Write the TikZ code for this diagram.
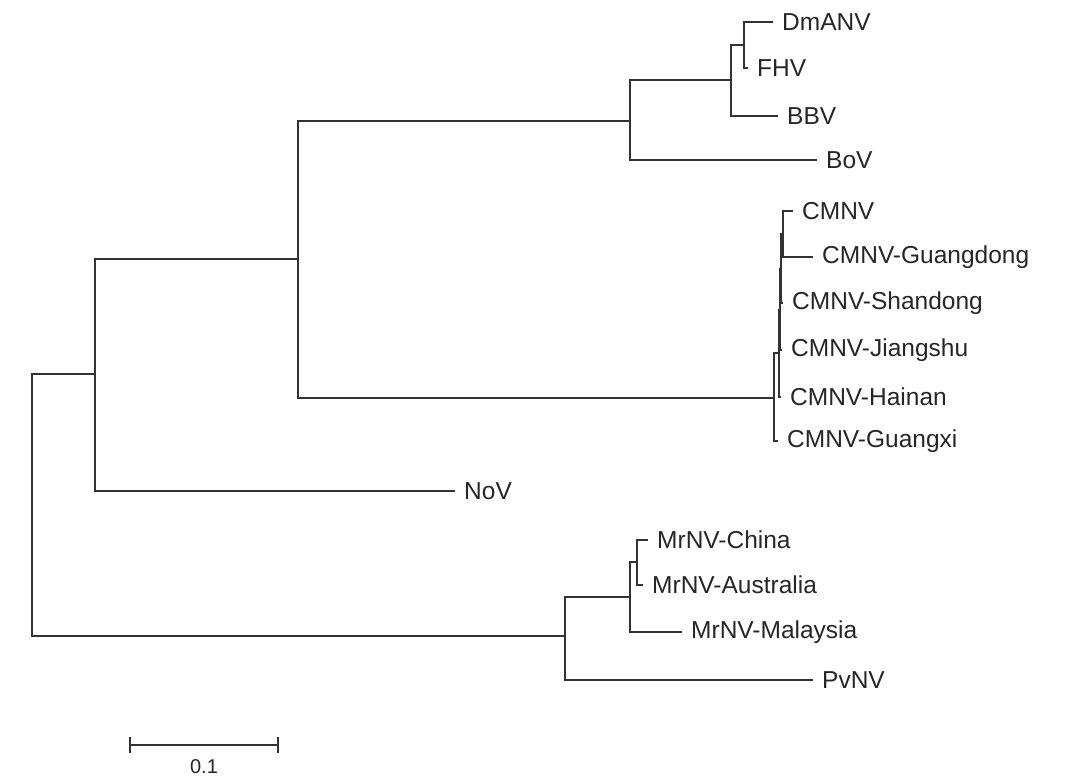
\documentclass[tikz,border=0pt]{standalone}
\usepackage{fontspec}
\setmainfont{Liberation Sans}
\usetikzlibrary{positioning}

\begin{document}
\begin{tikzpicture}[
  x=1pt, y=-1pt,
  branch/.style={draw=black!80, line width=1.2pt},
  taxon/.style={anchor=west, inner sep=0pt, xshift=9pt,
                font=\fontsize{24.5}{26}\selectfont, text=black!85}
]
\useasboundingbox (0,0) rectangle (1067,778);
% internal nodes
\coordinate (root) at (32,505);
\coordinate (n1) at (95,374);
\coordinate (n2) at (298,259);
\coordinate (n3) at (630,121);
\coordinate (n4) at (731,80);
\coordinate (n4a) at (744,45);
\coordinate (n5) at (774,398);
\coordinate (n6) at (779,353);
\coordinate (n7) at (780,310);
\coordinate (n8) at (781,269);
\coordinate (n9) at (783,234);
\coordinate (m0) at (565,636);
\coordinate (m1) at (630,597);
\coordinate (m2) at (637,562);
% leaf tips
\coordinate (tDmANV) at (773,22);
\coordinate (tFHV) at (748,68);
\coordinate (tBBV) at (778,116);
\coordinate (tBoV) at (817,160);
\coordinate (tCMNV) at (793,211);
\coordinate (tGd) at (813,257);
\coordinate (tSd) at (783,303);
\coordinate (tJs) at (782,350);
\coordinate (tHn) at (781,397);
\coordinate (tGx) at (778,441);
\coordinate (tNoV) at (455,491);
\coordinate (tChina) at (648,540);
\coordinate (tAus) at (643,585);
\coordinate (tMal) at (682,632);
\coordinate (tPvNV) at (813,680);
% labels
\node[taxon] (DmANV) at (tDmANV) {DmANV};
\node[taxon] (FHV) at (tFHV) {FHV};
\node[taxon] (BBV) at (tBBV) {BBV};
\node[taxon] (BoV) at (tBoV) {BoV};
\node[taxon] (CMNV) at (tCMNV) {CMNV};
\node[taxon] (Gd) at (tGd) {CMNV-Guangdong};
\node[taxon] (Sd) at (tSd) {CMNV-Shandong};
\node[taxon] (Js) at (tJs) {CMNV-Jiangshu};
\node[taxon] (Hn) at (tHn) {CMNV-Hainan};
\node[taxon] (Gx) at (tGx) {CMNV-Guangxi};
\node[taxon] (NoV) at (tNoV) {NoV};
\node[taxon] (China) at (tChina) {MrNV-China};
\node[taxon] (Aus) at (tAus) {MrNV-Australia};
\node[taxon] (Mal) at (tMal) {MrNV-Malaysia};
\node[taxon] (PvNV) at (tPvNV) {PvNV};
% branches
\draw[branch] (root) |- (n1);
\draw[branch] (root) |- (m0);
\draw[branch] (n1) |- (n2);
\draw[branch] (n1) |- (tNoV);
\draw[branch] (n2) |- (n3);
\draw[branch] (n2) |- (n5);
\draw[branch] (n3) |- (n4);
\draw[branch] (n3) |- (tBoV);
\draw[branch] (n4) |- (n4a);
\draw[branch] (n4) |- (tBBV);
\draw[branch] (n4a) |- (tDmANV);
\draw[branch] (n4a) |- (tFHV);
\draw[branch] (n5) |- (n6);
\draw[branch] (n5) |- (tGx);
\draw[branch] (n6) |- (n7);
\draw[branch] (n6) |- (tHn);
\draw[branch] (n7) |- (n8);
\draw[branch] (n7) |- (tJs);
\draw[branch] (n8) |- (n9);
\draw[branch] (n8) |- (tSd);
\draw[branch] (n9) |- (tCMNV);
\draw[branch] (n9) |- (tGd);
\draw[branch] (m0) |- (m1);
\draw[branch] (m0) |- (tPvNV);
\draw[branch] (m1) |- (m2);
\draw[branch] (m1) |- (tMal);
\draw[branch] (m2) |- (tChina);
\draw[branch] (m2) |- (tAus);
% scale bar
\coordinate (sbL) at (130,745);
\coordinate (sbR) at (278,745);
\draw[branch] (sbL) -- (sbR);
\draw[branch] ([yshift=-8pt]sbL) -- ([yshift=8pt]sbL);
\draw[branch] ([yshift=-8pt]sbR) -- ([yshift=8pt]sbR);
\node[font=\fontsize{20}{22}\selectfont, text=black!85, inner sep=0pt]
  (sbLabel) at (204,767) {0.1};
\end{tikzpicture}
\end{document}
